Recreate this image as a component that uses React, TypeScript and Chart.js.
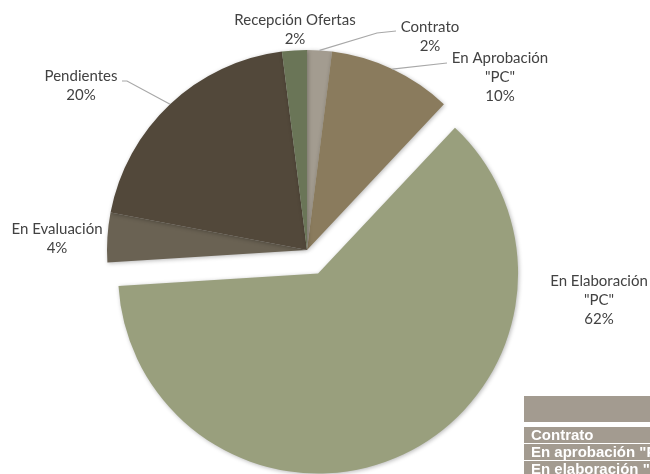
import React, { useEffect, useRef } from "react";
import { Chart, registerables } from "chart.js";

Chart.register(...registerables);

const categories = [
  "Contrato",
  "En Aprobación \"PC\"",
  "En Elaboración \"PC\"",
  "En Evaluación",
  "Pendientes",
  "Recepción Ofertas",
];
const values = [2, 10, 62, 4, 20, 2];
const colors = ["#a39c90", "#8a7b5d", "#999f7d", "#6a6253", "#52483a", "#6a7557"];
const labelLines = [
  ["Contrato", "2%"],
  ["En Aprobación", "\"PC\"", "10%"],
  ["En Elaboración", "\"PC\"", "62%"],
  ["En Evaluación", "4%"],
  ["Pendientes", "20%"],
  ["Recepción Ofertas", "2%"],
];
const tableRows = ["Contrato", "En aprobación \"PC\"", "En elaboración \"PC\""];

// layout (pixels relative to pie center)
const explodedIndex = 2;
const explodeDist = 26;
const labelPos = [
  { x: 123, y: -223, line: [{ x: 70, y: -217 }, { x: 89, y: -219 }] },
  { x: 193, y: -192, line: [{ x: 140, y: -187 }] },
  { x: 292, y: 31, line: null },
  { x: -250, y: -21, line: null },
  { x: -226, y: -174, line: [{ x: -180, y: -169 }, { x: -185, y: -169 }] },
  { x: -12, y: -230, line: null },
];

const explodePlugin = {
  id: "explode",
  afterDatasetsUpdate(chart: any) {
    const meta = chart.getDatasetMeta(0);
    const arc = meta.data[explodedIndex];
    if (!arc) return;
    const mid = (arc.startAngle + arc.endAngle) / 2;
    arc.x += Math.cos(mid) * explodeDist;
    arc.y += Math.sin(mid) * explodeDist;
  },
  beforeDatasetsDraw(chart: any) {
    const ctx = chart.ctx;
    ctx.save();
    ctx.shadowColor = "rgba(0,0,0,0.28)";
    ctx.shadowBlur = 4;
    ctx.shadowOffsetX = 1;
    ctx.shadowOffsetY = 1;
  },
  afterDatasetsDraw(chart: any) {
    chart.ctx.restore();
  },
};

const labelPlugin = {
  id: "pieLabels",
  afterDraw(chart: any) {
    const ctx = chart.ctx;
    const meta = chart.getDatasetMeta(0);
    const base = meta.data[0];
    const cx = base.x;
    const cy = base.y;
    ctx.save();
    ctx.font = "15px Lato";
    ctx.fillStyle = "#424242";
    ctx.textAlign = "center";
    ctx.textBaseline = "middle";
    meta.data.forEach((arc: any, i: number) => {
      const p = labelPos[i];
      const lines = labelLines[i];
      const lh = 19;
      lines.forEach((t, k) => {
        ctx.fillText(t, cx + p.x, cy + p.y + k * lh);
      });
      if (p.line) {
        const mid = (arc.startAngle + arc.endAngle) / 2;
        const r = arc.outerRadius;
        const sx = arc.x + Math.cos(mid) * r;
        const sy = arc.y + Math.sin(mid) * r;
        ctx.strokeStyle = "#a8a8a8";
        ctx.lineWidth = 1.2;
        ctx.beginPath();
        ctx.moveTo(sx, sy);
        p.line.forEach((q) => ctx.lineTo(cx + q.x, cy + q.y));
        ctx.stroke();
      }
    });
    ctx.restore();
  },
};

export default function App() {
  const ref = useRef<HTMLCanvasElement>(null);
  useEffect(() => {
    if (!ref.current) return;
    const chart = new Chart(ref.current, {
      type: "pie",
      data: {
        labels: categories,
        datasets: [
          {
            data: values,
            backgroundColor: colors,
            borderWidth: 0,
            radius: 200,
          } as any,
        ],
      },
      options: {
        responsive: false,
        animation: false,
        events: [],
        layout: { padding: { left: 0, right: 36, top: 0, bottom: 0 } },
        plugins: {
          legend: { display: false },
          tooltip: { enabled: false },
        },
      },
      plugins: [explodePlugin, labelPlugin],
    });
    return () => chart.destroy();
  }, []);

  return (
    <div
      style={{
        position: "absolute",
        left: 0,
        top: 0,
        width: 650,
        height: 474,
        overflow: "hidden",
        background: "#ffffff",
      }}
    >
      <canvas ref={ref} width={650} height={500} style={{ display: "block" }} />
      <div
        style={{
          position: "absolute",
          left: 524,
          top: 396,
          width: 200,
          fontFamily: "'Liberation Sans', Arial, sans-serif",
          fontWeight: "bold",
          fontSize: 15,
          color: "#ffffff",
          whiteSpace: "nowrap",
        }}
      >
        <div style={{ height: 26, background: "#a39b90", marginBottom: 5 }} />
        {tableRows.map((r) => (
          <div
            key={r}
            style={{
              height: 16,
              lineHeight: "16px",
              background: "#a39b90",
              borderBottom: "1px solid #ffffff",
              paddingLeft: 7,
            }}
          >
            {r}
          </div>
        ))}
      </div>
    </div>
  );
}
